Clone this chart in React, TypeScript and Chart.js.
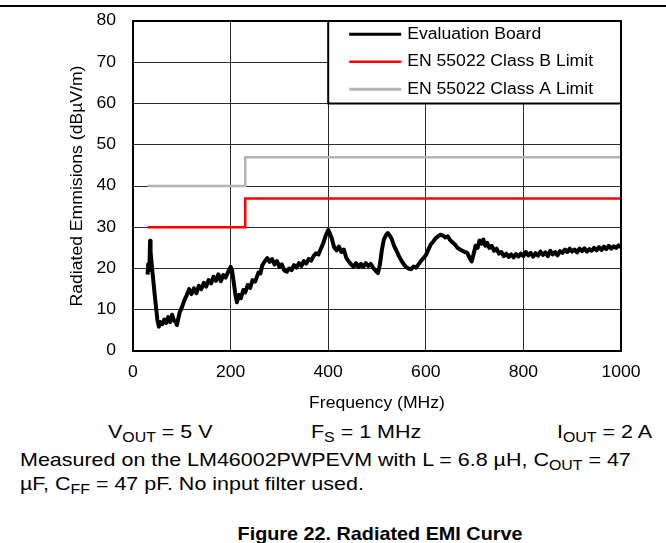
import React, { useEffect, useRef } from "react";
import { Chart, registerables } from "chart.js";

Chart.register(...registerables);

// ---------- data ----------
const FREQ_MHZ = [
  30, 31, 32, 34, 35, 36, 40, 45, 50, 53, 56, 60, 64, 68, 72, 76, 80, 84, 88, 90,
  93, 96, 100, 105, 110, 115, 120, 125, 130, 135, 140, 145, 150, 155, 160, 165, 170, 175, 180, 185,
  190, 195, 200, 203, 206, 210, 213, 217, 221, 226, 230, 235, 240, 245, 250, 253, 257, 261, 265, 270,
  275, 280, 285, 290, 295, 300, 305, 310, 315, 320, 325, 330, 335, 340, 345, 350, 355, 360, 365, 370,
  375, 380, 385, 390, 395, 400, 403, 407, 412, 417, 422, 427, 432, 437, 442, 447, 452, 457, 462, 467,
  472, 477, 482, 487, 492, 497, 502, 506, 510, 514, 518, 522, 526, 530, 535, 540, 545, 550, 555, 560,
  565, 570, 575, 580, 585, 590, 595, 600, 605, 610, 615, 620, 625, 630, 635, 640, 645, 650, 655, 660,
  665, 670, 675, 680, 685, 690, 694, 698, 702, 706, 710, 714, 718, 722, 726, 730, 735, 740, 745, 750,
  755, 760, 765, 770, 775, 780, 785, 790, 795, 800, 805, 810, 815, 820, 825, 830, 835, 840, 845, 850,
  855, 860, 865, 870, 875, 880, 885, 890, 895, 900, 905, 910, 915, 920, 925, 930, 935, 940, 945, 950,
  955, 960, 965, 970, 975, 980, 985, 990, 995, 1000,
];

const EMISSION_DBUV = [
  18.5, 21.0, 19.5, 21.5, 26.7, 24.0, 19.0, 13.0, 7.5, 5.9, 7.0, 6.5, 7.6, 6.8, 8.2, 7.0, 8.8, 7.4, 7.0, 6.3,
  8.0, 9.5, 10.5, 12.2, 13.5, 15.0, 13.8, 15.2, 14.0, 15.8, 15.0, 16.5, 15.6, 17.2, 16.4, 18.0, 17.0, 18.6, 16.9, 18.4,
  17.8, 19.2, 20.4, 19.5, 17.0, 13.5, 11.8, 13.6, 12.8, 14.8, 14.2, 16.0, 15.3, 17.2, 16.8, 17.7, 19.0, 18.8, 20.8, 21.7,
  22.5, 21.6, 22.3, 21.0, 21.8, 20.4, 21.0, 19.5, 19.2, 20.0, 19.6, 20.8, 20.2, 21.3, 20.6, 21.8, 21.2, 22.3, 21.9, 23.0,
  23.7, 23.4, 24.8, 26.2, 28.0, 29.3, 28.6, 27.4, 25.2, 24.4, 25.3, 24.0, 24.6, 22.6, 21.7, 21.0, 20.4, 21.3, 20.3, 21.1,
  20.4, 21.3, 20.6, 21.1, 20.2, 19.5, 18.9, 21.0, 24.5, 27.0, 28.0, 28.6, 28.0, 27.2, 25.5, 24.3, 23.0, 21.9, 21.0, 20.3,
  20.0, 19.8, 20.5, 20.2, 21.0, 21.8, 22.5, 23.2, 24.5, 25.8, 26.5, 27.3, 27.8, 28.2, 28.0, 27.5, 27.8, 26.9, 26.3, 25.8,
  25.0, 24.6, 24.3, 24.0, 23.8, 22.5, 21.7, 23.5, 25.5, 25.0, 26.8, 26.0, 27.0, 25.5, 26.2, 25.0, 25.5, 24.3, 24.8, 23.6,
  24.0, 23.0, 23.6, 22.8, 23.4, 22.7, 23.5, 22.9, 23.6, 23.0, 24.0, 23.2, 23.8, 22.9, 23.7, 23.1, 24.1, 23.3, 23.9, 23.0,
  24.3, 23.4, 24.0, 23.2, 24.2, 23.8, 24.6, 24.0, 24.8, 24.1, 24.6, 23.9, 24.8, 24.2, 24.9, 24.1, 24.7, 24.3, 25.0, 24.4,
  25.2, 24.5, 25.3, 24.7, 25.5, 24.8, 25.4, 25.0, 25.6, 25.2,
];

const LIMIT_FREQ_MHZ = [30, 230, 230, 1000];
const CLASS_B_LIMIT = [30, 30, 37, 37];
const CLASS_A_LIMIT = [40, 40, 47, 47];

const SERIES_LABELS = ["Evaluation Board", "EN 55022 Class B Limit", "EN 55022 Class A Limit"];
const X_TICKS = [0, 200, 400, 600, 800, 1000];
const Y_TICKS = [0, 10, 20, 30, 40, 50, 60, 70, 80];
const LEGEND_FREQ_SPAN = [400, 1000];
const LEGEND_LEVEL_SPAN = [60, 80];

const FONT = "'Liberation Sans', Arial, Helvetica, sans-serif";
const TEXT_STRETCH = 1.1;

const toPoints = (xs: number[], ys: number[]) => xs.map((x, i) => ({ x, y: ys[i] }));

const boxLegendPlugin = {
  id: "boxLegend",
  afterDatasetsDraw(chart: any) {
    const { ctx, scales, chartArea } = chart;
    const xs = scales.x;
    const ys = scales.y;
    const l = xs.getPixelForValue(LEGEND_FREQ_SPAN[0]);
    const r = xs.getPixelForValue(LEGEND_FREQ_SPAN[1]);
    const t = ys.getPixelForValue(LEGEND_LEVEL_SPAN[1]);
    const b = ys.getPixelForValue(LEGEND_LEVEL_SPAN[0]);
    ctx.save();
    ctx.fillStyle = "#ffffff";
    ctx.fillRect(l, t, r - l, b - t);
    ctx.strokeStyle = "#000000";
    ctx.lineWidth = 2;
    ctx.strokeRect(l, t, r - l, b - t);
    const rowH = (b - t) / 3;
    chart.data.datasets.forEach((ds: any, i: number) => {
      const cy = t + rowH * (i + 0.5) - 0.5;
      ctx.strokeStyle = ds.borderColor;
      ctx.lineWidth = ds.legendWidth;
      ctx.beginPath();
      ctx.moveTo(l + 21, cy);
      ctx.lineTo(l + 73, cy);
      ctx.stroke();
      ctx.fillStyle = "#000000";
      ctx.font = `16px ${FONT}`;
      ctx.textAlign = "left";
      ctx.textBaseline = "middle";
      ctx.fillText(ds.label, l + 79, cy);
    });
    // plot frame
    ctx.strokeStyle = "#000000";
    ctx.lineWidth = 2;
    ctx.strokeRect(chartArea.left, chartArea.top, chartArea.right - chartArea.left, chartArea.bottom - chartArea.top);
    ctx.restore();
  },
};

function EmiChart() {
  const canvasRef = useRef<HTMLCanvasElement | null>(null);

  useEffect(() => {
    const canvas = canvasRef.current;
    if (!canvas) return;
    const ctx2d = canvas.getContext("2d") as any;
    // stretch glyphs horizontally around their anchor point
    if (!ctx2d.__stretched) {
      const orig = ctx2d.fillText.bind(ctx2d);
      ctx2d.fillText = (text: string, x: number, y: number, maxWidth?: number) => {
        ctx2d.save();
        ctx2d.translate(x, y);
        ctx2d.scale(TEXT_STRETCH, 1);
        if (maxWidth === undefined || maxWidth === null) orig(text, 0, 0);
        else orig(text, 0, 0, maxWidth / TEXT_STRETCH);
        ctx2d.restore();
      };
      ctx2d.__stretched = true;
    }

    const chart = new Chart(ctx2d, {
      type: "line",
      data: {
        datasets: [
          {
            label: SERIES_LABELS[0],
            data: toPoints(FREQ_MHZ, EMISSION_DBUV),
            borderColor: "#000000",
            borderWidth: 4,
            borderJoinStyle: "round",
            legendWidth: 3,
            pointRadius: 0,
            tension: 0,
          } as any,
          {
            label: SERIES_LABELS[1],
            data: toPoints(LIMIT_FREQ_MHZ, CLASS_B_LIMIT),
            borderColor: "#ff0000",
            borderWidth: 2.5,
            legendWidth: 2.5,
            pointRadius: 0,
            tension: 0,
          } as any,
          {
            label: SERIES_LABELS[2],
            data: toPoints(LIMIT_FREQ_MHZ, CLASS_A_LIMIT),
            borderColor: "#b4b4b4",
            borderWidth: 2.5,
            legendWidth: 3,
            pointRadius: 0,
            tension: 0,
          } as any,
        ],
      },
      options: {
        animation: false,
        responsive: true,
        maintainAspectRatio: false,
        events: [],
        layout: { padding: { left: 0, right: 45, top: 21, bottom: 0 } },
        plugins: {
          legend: { display: false },
          tooltip: { enabled: false },
          title: { display: false },
        },
        scales: {
          x: {
            type: "linear",
            min: 0,
            max: 1000,
            afterBuildTicks: (s: any) => {
              s.ticks = X_TICKS.map((v) => ({ value: v }));
            },
            afterFit: (s: any) => {
              s.height = 69;
              s.paddingLeft = 0;
              s.paddingRight = 0;
              s.paddingTop = 0;
              s.paddingBottom = 0;
            },
            border: { display: false },
            grid: { color: "#2a2a2a", lineWidth: 1, drawTicks: false },
            ticks: {
              color: "#000000",
              font: { size: 16, family: FONT },
              padding: 12,
              maxRotation: 0,
              autoSkip: false,
              callback: (v: any) => String(v),
            },
            title: {
              display: true,
              text: "Frequency (MHz)",
              color: "#000000",
              font: { size: 16, family: FONT },
              padding: { top: 0, bottom: 7 },
            },
          },
          y: {
            type: "linear",
            min: 0,
            max: 80,
            afterBuildTicks: (s: any) => {
              s.ticks = Y_TICKS.map((v) => ({ value: v }));
            },
            afterFit: (s: any) => {
              s.width = 133;
              s.paddingLeft = 0;
              s.paddingRight = 0;
              s.paddingTop = 0;
              s.paddingBottom = 0;
            },
            border: { display: false },
            grid: { color: "#2a2a2a", lineWidth: 1, drawTicks: false },
            ticks: {
              color: "#000000",
              font: { size: 16, family: FONT },
              padding: 17,
              autoSkip: false,
              callback: (v: any) => String(v),
            },
            title: {
              display: true,
              text: "Radiated Emmisions (dBµV/m)",
              color: "#000000",
              font: { size: 16, family: FONT },
              padding: { top: 68, bottom: 0 },
            },
          },
        },
      } as any,
      plugins: [boxLegendPlugin],
    });

    return () => chart.destroy();
  }, []);

  return (
    <div style={{ position: "absolute", left: 0, top: 0, width: 666, height: 420 }}>
      <canvas ref={canvasRef} />
    </div>
  );
}

const subStyle: React.CSSProperties = { fontSize: "0.74em", position: "relative", top: "0.3em" };

function Line({ left, top, children, stretch = 1.13, bold = false, size = 19 }: any) {
  return (
    <div
      style={{
        position: "absolute",
        left,
        top,
        fontFamily: FONT,
        fontSize: size,
        lineHeight: "22px",
        fontWeight: bold ? "bold" : "normal",
        whiteSpace: "nowrap",
        color: "#000",
        transform: `scaleX(${stretch})`,
        transformOrigin: "left center",
      }}
    >
      {children}
    </div>
  );
}

export default function App() {
  return (
    <div style={{ position: "absolute", left: 0, top: 0, width: 666, height: 543, background: "#fff", overflow: "hidden" }}>
      <div style={{ position: "absolute", left: 0, top: 5, width: 666, height: 2, background: "#000" }} />
      <EmiChart />
      <Line left={108} top={421}>
        V<span style={subStyle}>OUT</span> = 5 V
      </Line>
      <Line left={311} top={421}>
        F<span style={subStyle}>S</span> = 1 MHz
      </Line>
      <Line left={557} top={421}>
        I<span style={subStyle}>OUT</span> = 2 A
      </Line>
      <Line left={20} top={449}>
        Measured on the LM46002PWPEVM with L = 6.8 µH, C<span style={subStyle}>OUT</span> = 47
      </Line>
      <Line left={20} top={473}>
        µF, C<span style={subStyle}>FF</span> = 47 pF. No input filter used.
      </Line>
      <div
        style={{
          position: "absolute",
          left: 180,
          top: 523,
          width: 400,
          textAlign: "center",
          fontFamily: FONT,
          fontSize: 18.5,
          lineHeight: "22px",
          fontWeight: "bold",
          whiteSpace: "nowrap",
          transform: "scaleX(1.07)",
          transformOrigin: "center center",
        }}
      >
        Figure 22. Radiated EMI Curve
      </div>
    </div>
  );
}
